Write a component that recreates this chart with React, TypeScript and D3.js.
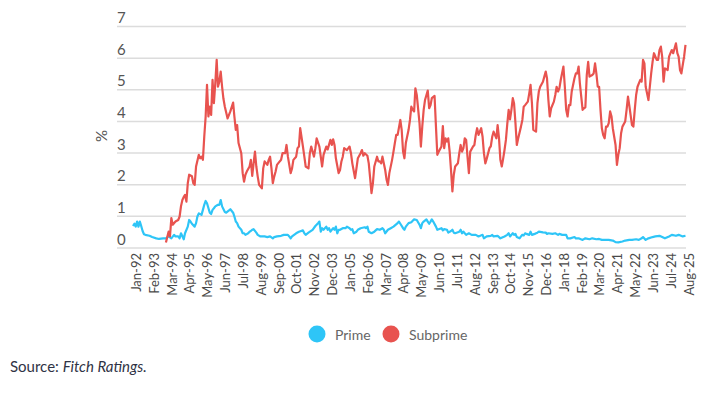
import React, { useEffect, useRef } from 'react';
import * as d3 from 'd3';

const yTicks = [0, 1, 2, 3, 4, 5, 6, 7];
const xTickLabels = [
  'Jan-92', 'Feb-93', 'Mar-94', 'Apr-95', 'May-96', 'Jun-97', 'Jul-98', 'Aug-99',
  'Sep-00', 'Oct-01', 'Nov-02', 'Dec-03', 'Jan-05', 'Feb-06', 'Mar-07', 'Apr-08',
  'May-09', 'Jun-10', 'Jul-11', 'Aug-12', 'Sep-13', 'Oct-14', 'Nov-15', 'Dec-16',
  'Jan-18', 'Feb-19', 'Mar-20', 'Apr-21', 'May-22', 'Jun-23', 'Jul-24', 'Aug-25',
];
const seriesNames = ['Prime', 'Subprime'];
const seriesColors = ['#2ec5f7', '#e8534f'];

// 60+ day delinquency, %
const prime: [string, number][] = [
  ['1992-01', 0.68], ['1992-02', 0.75], ['1992-03', 0.66], ['1992-04', 0.82], ['1992-05', 0.66], ['1992-06', 0.82], ['1992-07', 0.68], ['1992-08', 0.52], ['1992-09', 0.42], ['1992-10', 0.4],
  ['1993-01', 0.37], ['1993-03', 0.33], ['1993-06', 0.29], ['1993-08', 0.27], ['1993-11', 0.29],
  ['1994-01', 0.29], ['1994-03', 0.35], ['1994-05', 0.29], ['1994-07', 0.4], ['1994-08', 0.35], ['1994-10', 0.35], ['1994-11', 0.29], ['1994-12', 0.45],
  ['1995-02', 0.26], ['1995-03', 0.45], ['1995-05', 0.66], ['1995-06', 0.87], ['1995-07', 0.82], ['1995-08', 0.75], ['1995-10', 0.66], ['1995-11', 0.77], ['1995-12', 0.98],
  ['1996-01', 1.08], ['1996-03', 1.03], ['1996-04', 1.19], ['1996-05', 1.35], ['1996-06', 1.47], ['1996-07', 1.4], ['1996-09', 1.1], ['1996-10', 1.06], ['1996-11', 1.19], ['1996-12', 1.24],
  ['1997-01', 1.3], ['1997-03', 1.35], ['1997-04', 1.35], ['1997-05', 1.5], ['1997-06', 1.3], ['1997-08', 1.12], ['1997-09', 1.1], ['1997-11', 1.17], ['1997-12', 1.21],
  ['1998-02', 1.1], ['1998-03', 0.98], ['1998-04', 0.82], ['1998-05', 0.77], ['1998-06', 0.66], ['1998-08', 0.56], ['1998-09', 0.45], ['1998-10', 0.45], ['1998-11', 0.4],
  ['1999-01', 0.45], ['1999-02', 0.5], ['1999-03', 0.52], ['1999-04', 0.56], ['1999-05', 0.58], ['1999-07', 0.47], ['1999-08', 0.4], ['1999-10', 0.35],
  ['2000-01', 0.35], ['2000-03', 0.33], ['2000-05', 0.35], ['2000-07', 0.29], ['2000-08', 0.33], ['2000-10', 0.35],
  ['2001-01', 0.37], ['2001-03', 0.4], ['2001-06', 0.4], ['2001-07', 0.35], ['2001-08', 0.29], ['2001-09', 0.35], ['2001-12', 0.45],
  ['2002-02', 0.5], ['2002-05', 0.54], ['2002-06', 0.45], ['2002-07', 0.4], ['2002-09', 0.47], ['2002-12', 0.56],
  ['2003-02', 0.68], ['2003-04', 0.77], ['2003-05', 0.82], ['2003-06', 0.5], ['2003-07', 0.61], ['2003-08', 0.56], ['2003-10', 0.66], ['2003-11', 0.56], ['2003-12', 0.61],
  ['2004-01', 0.5], ['2004-03', 0.61], ['2004-04', 0.56], ['2004-05', 0.66], ['2004-06', 0.45], ['2004-07', 0.56], ['2004-08', 0.56], ['2004-10', 0.61], ['2004-12', 0.61],
  ['2005-01', 0.66], ['2005-03', 0.61], ['2005-04', 0.56], ['2005-05', 0.58], ['2005-06', 0.45], ['2005-08', 0.5], ['2005-09', 0.56], ['2005-11', 0.61],
  ['2006-02', 0.64], ['2006-03', 0.61], ['2006-04', 0.66], ['2006-05', 0.5], ['2006-07', 0.45], ['2006-09', 0.5], ['2006-11', 0.58],
  ['2007-01', 0.56], ['2007-03', 0.61], ['2007-04', 0.56], ['2007-05', 0.45], ['2007-07', 0.56], ['2007-09', 0.61], ['2007-11', 0.66],
  ['2008-02', 0.77], ['2008-03', 0.82], ['2008-04', 0.75], ['2008-06', 0.61], ['2008-07', 0.56], ['2008-08', 0.66], ['2008-10', 0.77], ['2008-12', 0.8],
  ['2009-02', 0.89], ['2009-04', 0.87], ['2009-06', 0.72], ['2009-07', 0.61], ['2009-08', 0.77], ['2009-09', 0.82], ['2009-11', 0.89], ['2009-12', 0.82],
  ['2010-01', 0.75], ['2010-02', 0.82], ['2010-03', 0.89], ['2010-04', 0.82], ['2010-06', 0.66], ['2010-07', 0.56], ['2010-10', 0.61], ['2010-11', 0.54], ['2010-12', 0.58],
  ['2011-02', 0.56], ['2011-03', 0.47], ['2011-05', 0.52], ['2011-06', 0.56], ['2011-07', 0.47], ['2011-08', 0.45], ['2011-11', 0.5], ['2011-12', 0.56],
  ['2012-01', 0.45], ['2012-02', 0.5], ['2012-04', 0.4], ['2012-06', 0.45], ['2012-08', 0.4], ['2012-11', 0.4],
  ['2013-01', 0.35], ['2013-04', 0.4], ['2013-05', 0.29], ['2013-07', 0.35], ['2013-10', 0.37], ['2013-11', 0.4], ['2013-12', 0.35],
  ['2014-03', 0.37], ['2014-05', 0.29], ['2014-08', 0.35], ['2014-10', 0.4], ['2014-11', 0.45], ['2014-12', 0.35],
  ['2015-02', 0.45], ['2015-03', 0.4], ['2015-04', 0.43], ['2015-05', 0.33], ['2015-07', 0.29], ['2015-08', 0.35], ['2015-09', 0.4], ['2015-10', 0.38], ['2015-11', 0.45], ['2015-12', 0.43],
  ['2016-02', 0.4], ['2016-03', 0.5], ['2016-04', 0.4], ['2016-06', 0.43], ['2016-07', 0.45], ['2016-08', 0.47], ['2016-09', 0.5], ['2016-12', 0.48],
  ['2017-02', 0.47], ['2017-03', 0.43], ['2017-04', 0.45], ['2017-07', 0.43], ['2017-09', 0.45], ['2017-11', 0.4], ['2017-12', 0.43],
  ['2018-02', 0.4], ['2018-05', 0.4], ['2018-06', 0.29], ['2018-08', 0.29], ['2018-11', 0.33], ['2018-12', 0.29],
  ['2019-02', 0.29], ['2019-05', 0.24], ['2019-07', 0.29], ['2019-10', 0.26], ['2019-12', 0.29],
  ['2020-03', 0.26], ['2020-05', 0.27], ['2020-07', 0.24], ['2020-10', 0.24], ['2020-12', 0.24],
  ['2021-03', 0.22], ['2021-05', 0.17], ['2021-07', 0.16], ['2021-10', 0.19], ['2021-12', 0.22],
  ['2022-03', 0.24], ['2022-05', 0.24], ['2022-08', 0.26], ['2022-10', 0.24], ['2022-12', 0.29],
  ['2023-01', 0.33], ['2023-03', 0.24], ['2023-05', 0.29], ['2023-08', 0.33], ['2023-10', 0.35],
  ['2024-01', 0.37], ['2024-03', 0.33], ['2024-05', 0.29], ['2024-08', 0.35], ['2024-10', 0.4],
  ['2025-01', 0.37], ['2025-03', 0.4], ['2025-06', 0.35], ['2025-08', 0.37],
];

const subprime: [string, number][] = [
  ['1994-01', 0.16], ['1994-03', 0.5], ['1994-04', 0.35], ['1994-05', 0.93], ['1994-06', 0.72], ['1994-08', 0.82], ['1994-10', 0.87], ['1994-11', 0.98], ['1994-12', 1.3],
  ['1995-01', 1.5], ['1995-02', 1.6], ['1995-03', 1.66], ['1995-04', 1.45], ['1995-05', 2.03], ['1995-06', 2.3], ['1995-08', 2.25], ['1995-09', 2.03], ['1995-10', 1.98], ['1995-11', 2.56],
  ['1996-01', 2.93], ['1996-02', 2.82], ['1996-03', 2.87], ['1996-04', 2.77], ['1996-05', 3.5], ['1996-06', 4.14], ['1996-07', 5.14], ['1996-08', 4.14], ['1996-09', 4.45], ['1996-10', 4.19], ['1996-11', 5.3], ['1996-12', 4.56],
  ['1997-01', 5.19], ['1997-02', 5.93], ['1997-03', 5.08], ['1997-04', 5.24], ['1997-05', 5.56], ['1997-06', 5.08], ['1997-07', 4.7], ['1997-08', 4.45], ['1997-10', 4.08], ['1997-11', 4.19], ['1997-12', 4.3],
  ['1998-02', 4.58], ['1998-03', 4.14], ['1998-04', 3.72], ['1998-05', 3.87], ['1998-06', 3.3], ['1998-08', 2.98], ['1998-09', 2.35], ['1998-10', 2.08], ['1998-11', 2.3], ['1998-12', 2.4],
  ['1999-02', 2.56], ['1999-03', 2.77], ['1999-04', 2.26], ['1999-05', 2.66], ['1999-06', 3.03], ['1999-07', 2.56], ['1999-08', 2.24], ['1999-09', 1.98], ['1999-11', 1.87], ['1999-12', 2.5],
  ['2000-01', 2.72], ['2000-03', 2.61], ['2000-04', 2.77], ['2000-05', 2.87], ['2000-06', 2.5], ['2000-07', 2.03], ['2000-08', 2.24], ['2000-09', 2.4], ['2000-10', 2.61], ['2000-12', 2.72],
  ['2001-01', 2.77], ['2001-02', 2.98], ['2001-04', 2.98], ['2001-05', 3.24], ['2001-06', 2.87], ['2001-08', 2.35], ['2001-09', 2.5], ['2001-10', 2.77], ['2001-12', 2.87],
  ['2002-01', 3.14], ['2002-02', 3.19], ['2002-03', 3.77], ['2002-05', 3.19], ['2002-06', 2.87], ['2002-07', 2.56], ['2002-09', 2.5], ['2002-10', 2.98], ['2002-11', 3.19],
  ['2003-01', 2.87], ['2003-02', 3.14], ['2003-03', 3.45], ['2003-05', 3.19], ['2003-07', 2.56], ['2003-08', 2.93], ['2003-10', 3.19], ['2003-11', 3.1],
  ['2004-01', 3.4], ['2004-02', 3.24], ['2004-03', 3.42], ['2004-04', 3.24], ['2004-05', 2.82], ['2004-07', 2.35], ['2004-08', 2.45], ['2004-09', 2.72], ['2004-10', 2.87], ['2004-11', 3.14],
  ['2005-01', 3.08], ['2005-02', 3.14], ['2005-03', 3.19], ['2005-04', 2.98], ['2005-05', 2.66], ['2005-07', 2.19], ['2005-08', 2.5], ['2005-09', 2.82], ['2005-11', 2.98], ['2005-12', 3.08],
  ['2006-01', 2.9], ['2006-02', 2.98], ['2006-04', 2.9], ['2006-05', 2.66], ['2006-06', 2.19], ['2006-07', 1.72], ['2006-08', 2.03], ['2006-09', 2.56], ['2006-11', 2.87], ['2006-12', 2.72],
  ['2007-01', 2.72], ['2007-02', 2.66], ['2007-03', 2.87], ['2007-05', 2.45], ['2007-06', 2.14], ['2007-07', 1.98], ['2007-08', 2.35], ['2007-10', 2.77], ['2007-11', 3.03], ['2007-12', 3.3],
  ['2008-01', 3.56], ['2008-02', 3.56], ['2008-04', 4.03], ['2008-05', 3.72], ['2008-06', 3.03], ['2008-07', 2.82], ['2008-08', 3.3], ['2008-10', 3.72], ['2008-11', 4.03], ['2008-12', 4.45],
  ['2009-01', 4.35], ['2009-02', 4.3], ['2009-03', 5.03], ['2009-04', 4.82], ['2009-06', 3.93], ['2009-07', 3.19], ['2009-08', 3.82], ['2009-09', 4.35], ['2009-10', 4.66], ['2009-12', 4.96],
  ['2010-01', 4.4], ['2010-02', 4.5], ['2010-03', 4.72], ['2010-05', 4.79], ['2010-06', 3.82], ['2010-07', 2.93], ['2010-08', 3.03], ['2010-10', 3.19], ['2010-11', 3.84], ['2010-12', 3.14],
  ['2011-01', 3.45], ['2011-02', 3.35], ['2011-03', 3.45], ['2011-04', 3.03], ['2011-05', 2.45], ['2011-06', 1.77], ['2011-07', 2.29], ['2011-08', 2.56], ['2011-10', 2.66], ['2011-11', 2.98], ['2011-12', 3.24],
  ['2012-01', 3.03], ['2012-02', 3.14], ['2012-03', 3.45], ['2012-04', 3.4], ['2012-05', 2.87], ['2012-06', 2.35], ['2012-07', 3.03], ['2012-09', 3.19], ['2012-10', 3.24], ['2012-11', 3.56], ['2012-12', 3.77],
  ['2013-01', 3.56], ['2013-03', 3.77], ['2013-04', 3.5], ['2013-05', 2.98], ['2013-06', 2.66], ['2013-07', 2.8], ['2013-09', 3.14], ['2013-10', 3.2], ['2013-11', 3.5], ['2013-12', 3.66],
  ['2014-02', 3.45], ['2014-03', 3.87], ['2014-04', 3.45], ['2014-05', 2.77], ['2014-06', 2.56], ['2014-07', 2.8], ['2014-08', 3.08], ['2014-09', 3.4], ['2014-10', 3.9], ['2014-11', 4.35], ['2014-12', 4.05],
  ['2015-01', 4.35], ['2015-02', 4.72], ['2015-03', 4.55], ['2015-04', 3.93], ['2015-05', 3.24], ['2015-06', 3.45], ['2015-08', 3.82], ['2015-09', 4.03], ['2015-10', 4.45], ['2015-11', 4.5],
  ['2016-01', 4.61], ['2016-02', 4.87], ['2016-03', 5.14], ['2016-04', 4.56], ['2016-05', 3.72], ['2016-07', 3.66], ['2016-08', 4.56], ['2016-09', 4.93], ['2016-10', 5.08], ['2016-12', 5.24],
  ['2017-01', 5.4], ['2017-02', 5.56], ['2017-03', 5.35], ['2017-04', 4.66], ['2017-05', 4.14], ['2017-06', 4.4], ['2017-08', 4.61], ['2017-09', 4.82], ['2017-10', 5.08], ['2017-11', 4.93], ['2017-12', 5.03],
  ['2018-01', 5.3], ['2018-03', 5.72], ['2018-04', 5.08], ['2018-05', 4.35], ['2018-06', 4.14], ['2018-07', 4.5], ['2018-08', 4.5], ['2018-09', 4.93], ['2018-11', 5.35], ['2018-12', 5.5],
  ['2019-01', 5.5], ['2019-02', 5.72], ['2019-03', 5.19], ['2019-05', 4.35], ['2019-06', 4.4], ['2019-07', 4.43], ['2019-08', 5.45], ['2019-09', 5.87], ['2019-10', 5.4], ['2019-12', 5.45],
  ['2020-01', 5.5], ['2020-02', 5.82], ['2020-03', 5.5], ['2020-04', 5.08], ['2020-05', 5.08], ['2020-06', 4.35], ['2020-07', 3.77], ['2020-08', 3.55], ['2020-09', 3.45], ['2020-10', 3.82], ['2020-11', 3.82], ['2020-12', 3.93],
  ['2021-01', 4.3], ['2021-02', 4.14], ['2021-03', 3.77], ['2021-05', 3.24], ['2021-06', 2.61], ['2021-07', 2.93], ['2021-08', 3.14], ['2021-09', 3.61], ['2021-10', 3.82], ['2021-12', 3.98],
  ['2022-01', 4.35], ['2022-02', 4.77], ['2022-03', 4.5], ['2022-05', 3.87], ['2022-06', 3.82], ['2022-07', 4.35], ['2022-08', 4.82], ['2022-09', 5.08], ['2022-11', 5.3], ['2022-12', 5.24],
  ['2023-01', 5.93], ['2023-02', 5.82], ['2023-03', 5.08], ['2023-05', 4.66], ['2023-06', 5.08], ['2023-07', 5.5], ['2023-08', 5.87], ['2023-09', 6.14], ['2023-11', 5.93], ['2023-12', 5.93],
  ['2024-01', 6.24], ['2024-02', 6.35], ['2024-03', 6.03], ['2024-04', 5.24], ['2024-05', 5.66], ['2024-07', 5.61], ['2024-08', 6.03], ['2024-09', 6.14], ['2024-10', 6.24], ['2024-11', 6.14],
  ['2025-01', 6.45], ['2025-02', 6.14], ['2025-03', 6.03], ['2025-04', 5.61], ['2025-05', 5.5], ['2025-07', 6.03], ['2025-08', 6.4],
];

const width = 720;
const height = 393;
const gridLeft = 117;
const gridRight = 686;
const plot = { left: 133, right: 685.5, top: 26, bottom: 247.5 };
const textColor = '#555';
const font = 'Lato, "Open Sans", sans-serif';

export default function App() {
  const ref = useRef<SVGSVGElement>(null);

  useEffect(() => {
    const svg = d3.select(ref.current);
    svg.selectAll('*').remove();

    const parseMonth = d3.timeParse('%Y-%m');
    const parseLabel = d3.timeParse('%b-%y');

    const x = d3.scaleTime()
      .domain([parseMonth('1992-01') as Date, parseMonth('2025-08') as Date])
      .range([plot.left, plot.right]);
    const y = d3.scaleLinear().domain([0, 7]).range([plot.bottom, plot.top]);

    // gridlines + y labels sitting above each line
    svg.append('g')
      .attr('transform', `translate(${gridLeft},0)`)
      .call(d3.axisRight(y).tickValues(yTicks).tickSize(gridRight - gridLeft).tickFormat(d3.format('d')))
      .call(g => g.select('.domain').remove())
      .call(g => g.selectAll('.tick line').attr('stroke', '#dcdcdc').attr('stroke-width', 1.5))
      .call(g => g.selectAll('.tick text')
        .attr('x', 0)
        .attr('dy', -3.5)
        .attr('text-anchor', 'start')
        .attr('fill', textColor)
        .attr('font-size', 15)
        .attr('font-family', font));

    svg.append('text')
      .attr('transform', `translate(103,136) rotate(-90)`)
      .attr('text-anchor', 'middle')
      .attr('dominant-baseline', 'middle')
      .attr('fill', textColor)
      .attr('font-size', 15)
      .attr('font-family', font)
      .text('%');

    // rotated month labels
    svg.append('g')
      .attr('transform', `translate(0,253)`)
      .call(d3.axisBottom(x)
        .tickValues(xTickLabels.map(l => parseLabel(l) as Date))
        .tickSize(0)
        .tickFormat(d3.timeFormat('%b-%y') as any))
      .call(g => g.select('.domain').remove())
      .call(g => g.selectAll('.tick text')
        .attr('transform', 'rotate(-90)')
        .attr('x', 0)
        .attr('y', 3)
        .attr('dy', '0.35em')
        .attr('text-anchor', 'end')
        .attr('fill', '#4a4a4a')
        .attr('font-size', 13)
        .attr('font-family', font));

    const line = d3.line<[string, number]>()
      .x(d => x(parseMonth(d[0]) as Date))
      .y(d => y(d[1]))
      .curve(d3.curveLinear);

    [prime, subprime].forEach((data, i) => {
      svg.append('path')
        .attr('fill', 'none')
        .attr('stroke', seriesColors[i])
        .attr('stroke-width', 2.2)
        .attr('stroke-linejoin', 'round')
        .attr('d', line(data));
    });

    // legend
    const legend = svg.append('g').attr('font-family', font).attr('font-size', 14);
    const legendX = [317, 391];
    seriesNames.forEach((name, i) => {
      legend.append('circle')
        .attr('cx', legendX[i])
        .attr('cy', 334)
        .attr('r', 8.5)
        .attr('fill', seriesColors[i]);
      legend.append('text')
        .attr('x', legendX[i] + 18)
        .attr('y', 334)
        .attr('dominant-baseline', 'central')
        .attr('fill', '#666')
        .text(name);
    });

    const source = svg.append('text')
      .attr('x', 10)
      .attr('y', 372)
      .attr('font-family', font)
      .attr('font-size', 15)
      .attr('fill', '#2f3345');
    source.append('tspan').text('Source: ');
    source.append('tspan').attr('font-style', 'italic').text('Fitch Ratings.');
  }, []);

  return (
    <svg
      ref={ref}
      width={width}
      height={height}
      style={{ position: 'absolute', left: 0, top: 0, background: '#fff' }}
    />
  );
}
